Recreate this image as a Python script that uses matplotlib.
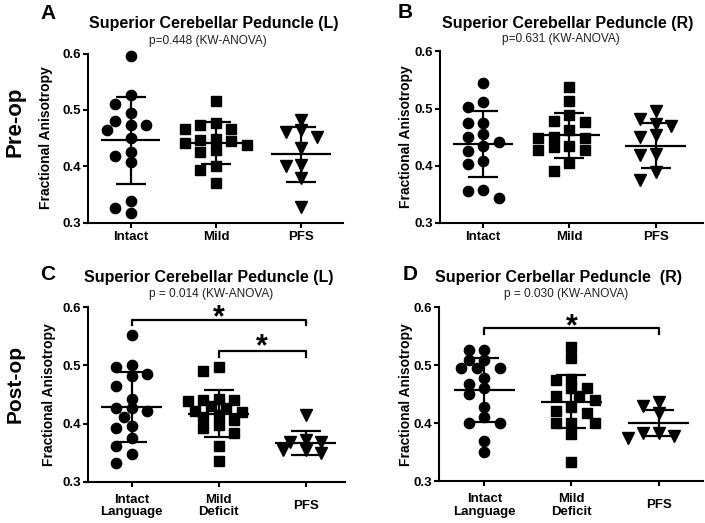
import numpy as np
import matplotlib
matplotlib.use("Agg")
import matplotlib.pyplot as plt

plt.rcParams['font.family'] = ['Liberation Sans', 'DejaVu Sans']

# ==============================
# DATA
# ==============================

groups_pre = ["Intact", "Mild", "PFS"]
groups_post = ["Intact\nLanguage", "Mild\nDeficit", "PFS"]

# A - SCP (L), pre-op
a_intact = [0.595, 0.526, 0.511, 0.494, 0.473, 0.481, 0.473, 0.465, 0.450,
            0.418, 0.426, 0.407, 0.339, 0.318, 0.326]
a_mild = [0.515, 0.477, 0.474, 0.467, 0.466, 0.448, 0.442, 0.447, 0.444,
          0.438, 0.426, 0.429, 0.401, 0.393, 0.370]
a_pfs = [0.482, 0.461, 0.464, 0.452, 0.432, 0.402, 0.400, 0.380, 0.328]
a_mean = [0.446, 0.441, 0.421]
a_sd = [0.077, 0.037, 0.048]

# B - SCP (R), pre-op
b_intact = [0.544, 0.511, 0.502, 0.474, 0.474, 0.451, 0.455, 0.441, 0.434,
            0.425, 0.408, 0.402, 0.358, 0.355, 0.344]
b_mild = [0.538, 0.513, 0.489, 0.477, 0.479, 0.463, 0.449, 0.450, 0.449,
          0.428, 0.434, 0.427, 0.432, 0.404, 0.390]
b_pfs = [0.496, 0.482, 0.470, 0.473, 0.453, 0.451, 0.421, 0.418, 0.389, 0.375]
b_mean = [0.438, 0.453, 0.435]
b_sd = [0.058, 0.039, 0.040]

# C - SCP (L), post-op
c_intact = [0.552, 0.501, 0.498, 0.486, 0.481, 0.465, 0.443, 0.426, 0.422,
            0.426, 0.412, 0.392, 0.395, 0.376, 0.361, 0.348, 0.332]
c_mild = [0.498, 0.491, 0.443, 0.441, 0.441, 0.438, 0.430, 0.426, 0.422,
          0.420, 0.415, 0.412, 0.406, 0.398, 0.392, 0.383, 0.362, 0.336]
c_pfs = [0.414, 0.372, 0.369, 0.369, 0.354, 0.354, 0.349]
c_mean = [0.429, 0.417, 0.367]
c_sd = [0.060, 0.040, 0.021]

# D - SCP (R), post-op
d_intact = [0.526, 0.526, 0.509, 0.509, 0.496, 0.496, 0.496, 0.478, 0.467,
            0.461, 0.450, 0.428, 0.411, 0.401, 0.400, 0.369, 0.350]
d_mild = [0.532, 0.513, 0.477, 0.474, 0.460, 0.460, 0.446, 0.446, 0.440,
          0.428, 0.421, 0.417, 0.401, 0.401, 0.401, 0.382, 0.333]
d_pfs = [0.430, 0.437, 0.418, 0.383, 0.383, 0.375, 0.378]
d_mean = [0.457, 0.437, 0.400]
d_sd = [0.055, 0.046, 0.023]

# ==============================
# LAYOUT (pixels in a 705x523 figure)
# ==============================

W, H = 705, 523
fig = plt.figure(figsize=(W / 100, H / 100), dpi=100)


def fx(px):
    return px / W


def fy(py):
    return 1 - py / H


def add_axes(left, top, right, bottom):
    return fig.add_axes([fx(left), fy(bottom), (right - left) / W, (bottom - top) / H])


def swarm(vals, ppy, ppx, step=15.5, dmin=9.5):
    # simple greedy column scatter, like GraphPad
    vals = np.asarray(vals)
    offs = np.zeros(len(vals))
    placed = []
    cands = [0, -1, 1, -0.5, 0.5, -1.5, 1.5, -2, 2]
    for i in np.argsort(-vals, kind="stable"):
        y = vals[i] * ppy
        x = 0
        for c in cands:
            x = c * step
            if all(np.hypot(x - px, y - py) >= dmin for px, py in placed):
                break
        placed.append((x, y))
        offs[i] = x / ppx
    return offs


markers = ["o", "s", "v"]
msizes = [7.4, 7.4, 8.4]


def panel(ax, data, mean, sd, labels, xlim, ylab_x, post=False):
    ax.set_xlim(*xlim)
    ax.set_ylim(0.3, 0.6)
    bbox = ax.get_position()
    ppx = bbox.width * W / (xlim[1] - xlim[0])
    ppy = bbox.height * H / 0.3
    for i, vals in enumerate(data):
        offs = swarm(vals, ppy, ppx)
        ax.plot(i + offs, vals, linestyle="none", marker=markers[i],
                markersize=msizes[i], color="black", clip_on=False, zorder=3)
    x = np.arange(3)
    ax.hlines(mean, x - 0.35, x + 0.35, color="black", lw=1.6, zorder=4)
    ax.errorbar(x, mean, yerr=sd, fmt="none", ecolor="black", elinewidth=1.6,
                capsize=10.5, capthick=1.6, zorder=4)

    for s in ["top", "right"]:
        ax.spines[s].set_visible(False)
    for s in ["left", "bottom"]:
        ax.spines[s].set_linewidth(1.5)
    ax.set_yticks([0.3, 0.4, 0.5, 0.6])
    ax.set_yticklabels(["0.3", "0.4", "0.5", "0.6"], fontsize=9.5, fontweight="bold")
    ax.set_xticks(x)
    if post:
        ax.set_xticklabels(labels, fontsize=9.5, fontweight="bold", va="center",
                           linespacing=1.1)
        ax.tick_params(axis="x", pad=14)
    else:
        ax.set_xticklabels(labels, fontsize=9.5, fontweight="bold")
        ax.tick_params(axis="x", pad=2.5)
    ax.tick_params(axis="both", width=1.5, length=3.5)
    ax.tick_params(axis="y", pad=1.5)
    ax.set_ylabel("Fractional Anisotropy", fontsize=10, fontweight="bold")
    ax.yaxis.set_label_coords(ylab_x / (bbox.width * W), 0.5)


def bracket(ax, x0, x1, y, drop, ystar):
    ax.plot([x0, x0, x1, x1], [y - drop, y, y, y - drop], color="black",
            lw=1.6, clip_on=False, zorder=5)
    ax.text((x0 + x1) / 2, ystar, "*", ha="center", va="baseline",
            fontsize=22, fontweight="bold")


# ==============================
# PANELS
# ==============================

axA = add_axes(88, 53.5, 343, 222.7)
panel(axA, [a_intact, a_mild, a_pfs], a_mean, a_sd, groups_pre, (-0.5, 2.49), -35)

axB = add_axes(440, 51.5, 703, 222.7)
panel(axB, [b_intact, b_mild, b_pfs], b_mean, b_sd, groups_pre, (-0.5, 2.55), -27)

axC = add_axes(88, 307.3, 345, 481.7)
panel(axC, [c_intact, c_mild, c_pfs], c_mean, c_sd, groups_post, (-0.5, 2.45), -32, post=True)
bracket(axC, 0, 2, 0.579, 0.009, 0.567)
bracket(axC, 1, 2, 0.524, 0.010, 0.517)

axD = add_axes(439, 307.3, 703, 481)
panel(axD, [d_intact, d_mild, d_pfs], d_mean, d_sd, groups_post, (-0.52, 2.51), -26, post=True)
bracket(axD, 0, 2, 0.564, 0.010, 0.552)

# titles and subtitles
titles = ["Superior Cerebellar Peduncle (L)", "Superior Cerebellar Peduncle (R)",
          "Superior Cerebellar Peduncle (L)", "Superior Cerbellar Peduncle  (R)"]
subtitles = ["p=0.448 (KW-ANOVA)", "p=0.631 (KW-ANOVA)",
             "p = 0.014 (KW-ANOVA)", "p = 0.030 (KW-ANOVA)"]
title_pos = [(213.7, 28.3), (568, 28.3), (208.5, 281.7), (558.3, 281.7)]
sub_pos = [(207.5, 44.3), (561, 41.7), (211, 296.7), (566, 296.7)]
for t, (px, py) in zip(titles, title_pos):
    fig.text(fx(px), fy(py), t, ha="center", va="baseline", fontsize=11.5,
             fontweight="bold")
for t, (px, py) in zip(subtitles, sub_pos):
    fig.text(fx(px), fy(py), t, ha="center", va="baseline", fontsize=8.6,
             color="#222222")

# panel letters
for letter, (px, py) in zip("ABCD", [(40, 19), (398, 18.3), (40, 280), (403, 280)]):
    fig.text(fx(px), fy(py), letter, ha="left", va="baseline", fontsize=15,
             fontweight="bold")

# row labels
fig.text(fx(15), fy(122), "Pre-op", rotation=90, ha="center", va="center",
         fontsize=16, fontweight="bold")
fig.text(fx(15), fy(384), "Post-op", rotation=90, ha="center", va="center",
         fontsize=15, fontweight="bold")

fig.savefig("out.png", dpi=100)
